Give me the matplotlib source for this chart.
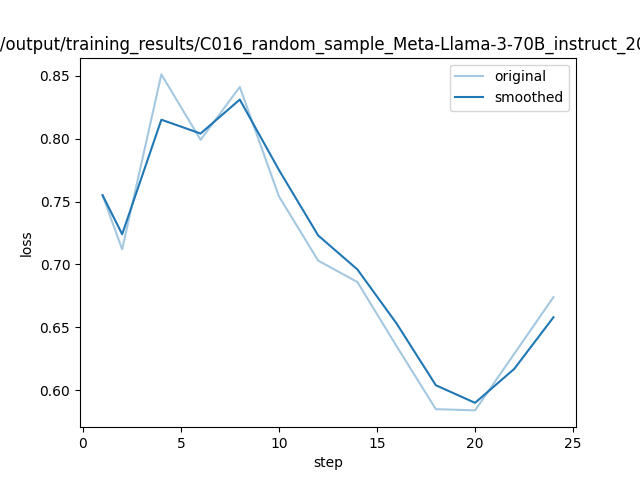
import matplotlib
matplotlib.use("Agg")
import matplotlib.pyplot as plt

# loss values
steps = [1, 2, 4, 6, 8, 10, 12, 14, 16, 18, 20, 22, 24]
loss_original = [0.755, 0.712, 0.851, 0.799, 0.841, 0.754, 0.703, 0.686, 0.635, 0.585, 0.584, 0.629, 0.674]
loss_smoothed = [0.755, 0.724, 0.815, 0.804, 0.831, 0.775, 0.723, 0.696, 0.653, 0.604, 0.590, 0.617, 0.658]

title = "/root/output/training_results/C016_random_sample_Meta-Llama-3-70B_instruct_202405-"

fig = plt.figure(figsize=(6.4, 4.8), dpi=100)
plt.plot(steps, loss_original, color='#1f77b4', alpha=0.4, label='original')
plt.plot(steps, loss_smoothed, color='#1f77b4', label='smoothed')
plt.title(title)
plt.xlabel('step')
plt.ylabel('loss')
plt.legend()
plt.savefig('out.png')
